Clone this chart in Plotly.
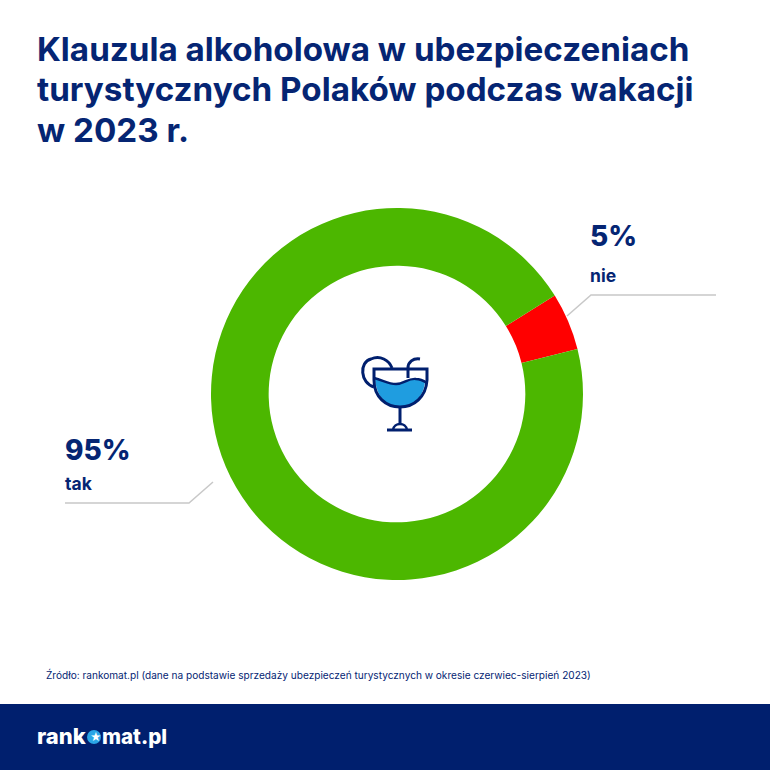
import plotly.graph_objects as go

# data
categories = ['nie', 'tak']
values = [5, 95]
slice_colors = ['#ff0000', '#4cb700']

title_lines = [
    'Klauzula alkoholowa w ubezpieczeniach',
    'turystycznych Polaków podczas wakacji',
    'w 2023 r.',
]
source_text = 'Źródło: rankomat.pl (dane na podstawie sprzedaży ubezpieczeń turystycznych w okresie czerwiec-sierpień 2023)'

NAVY = '#052573'
BAND = '#001f6e'
GREY = '#c8c8c8'
FONT = 'Inter'
SIZE = 770


def dom(a, b):
    return [a / SIZE, b / SIZE]


fig = go.Figure()

fig.add_trace(go.Pie(
    labels=categories,
    values=values,
    hole=0.69,
    sort=False,
    direction='clockwise',
    rotation=58,
    marker=dict(colors=slice_colors, line=dict(width=0)),
    textinfo='none',
    showlegend=False,
    domain=dict(x=dom(211, 583), y=dom(770 - 580, 770 - 208)),
))

# annotations in pixel coords, axes are hidden
shapes = [
    # footer
    dict(type='rect', x0=0, x1=770, y0=704, y1=770, fillcolor=BAND, line_width=0, layer='below'),
    # leader lines
    dict(type='path', path='M 567 316 L 591 295 L 716 295', line=dict(color=GREY, width=1.5)),
    dict(type='path', path='M 213 482 L 189 503 L 65 503', line=dict(color=GREY, width=1.5)),
    # lemon behind the glass
    dict(type='path', path='M 374 387 C 360 383 359 362 371 359 C 380 355 389 360 392 368',
         line=dict(color=BAND, width=3)),
    # liquid
    dict(type='path',
         path='M 375 379 C 383 380 387 384 396 384 C 404 384 408 378 416 379 C 420 379 423 381 425 382 '
              'C 423 398 413 407 400 407 C 387 407 377 398 375 379 Z',
         fillcolor='#1f9de0', line_width=0),
    # glass
    dict(type='path',
         path='M 374 369 L 427 369 L 427 380 C 426 397 414 407 400 407 C 386 407 374 397 374 380 Z',
         line=dict(color=BAND, width=3)),
    dict(type='path', path='M 374 378 C 383 380 388 384 396 384 C 404 384 408 378 416 379 C 420 379 424 381 427 383',
         line=dict(color=BAND, width=2.4)),
    # straw
    dict(type='path', path='M 408 378 L 408 368 C 408 362 413 358 420 359',
         line=dict(color=BAND, width=3)),
    # stem and base
    dict(type='path', path='M 400 407 L 400 424', line=dict(color=BAND, width=3)),
    dict(type='path', path='M 387 430 L 412 430', line=dict(color=BAND, width=3)),
    dict(type='path', path='M 393 430 C 394 422 406 422 407 430', line=dict(color=BAND, width=2.4)),
    # logo o
    dict(type='circle', x0=87, x1=101, y0=730, y1=744, fillcolor='#2aa5e6', line_width=0),
]


def label(x, y, text, size, color=NAVY, weight=700):
    fig.add_annotation(
        x=x, y=y, xref='x', yref='y', text=text, showarrow=False,
        xanchor='left', yanchor='middle', align='left',
        font=dict(family=FONT, size=size, color=color, weight=weight),
    )


for line_y, line in zip([49, 89, 130], title_lines):
    label(35, line_y, line, 33.2)

label(588, 236, '5%', 28, weight=800)
label(588, 275, 'nie', 17.5)
label(63, 450, '95%', 28, weight=800)
label(63, 483, 'tak', 17.5)
label(44, 674, source_text, 10.1, weight=400)

label(35, 736, 'rank', 22, color='white', weight=800)
label(100, 736, 'mat.pl', 20.5, color='white', weight=800)
label(87.5, 737, '★', 11, color='white', weight=400)

fig.update_layout(
    width=SIZE,
    height=SIZE,
    margin=dict(l=0, r=0, t=0, b=0),
    paper_bgcolor='white',
    plot_bgcolor='white',
    shapes=shapes,
    xaxis=dict(range=[0, 770], visible=False, domain=[0, 1], fixedrange=True),
    yaxis=dict(range=[770, 0], visible=False, domain=[0, 1], fixedrange=True),
)

# browser default body margin would push the chart by 8px
fig.write_html("out.html", config={'displayModeBar': False},
               post_script="document.body.style.margin='0';document.body.style.overflow='hidden';")
